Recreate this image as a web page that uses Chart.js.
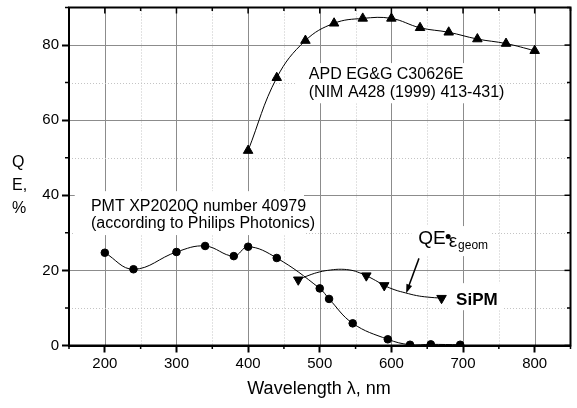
<!DOCTYPE html>
<html>
<head>
<meta charset="utf-8">
<script src="https://cdn.jsdelivr.net/npm/chart.js@4.4.0/dist/chart.umd.min.js"></script>
<style>
    html, body { margin: 0; padding: 0; background: #fff; }
    canvas { display: block; }
</style>
</head>
<body>
<canvas id="qeChart" width="577" height="408"></canvas>
<script>
// wavelength (nm) and QE (%)
const apdWavelength = [400, 440, 480, 520, 560, 600, 640, 680, 720, 760, 800];
const apdQE = [51.9, 71.3, 81.2, 85.8, 87.1, 87.1, 84.6, 83.4, 81.6, 80.4, 78.5];

const pmtWavelength = [200, 240, 300, 340, 380, 400, 440, 500, 513, 546, 595, 626, 655, 696];
const pmtQE = [24.7, 20.3, 24.9, 26.5, 23.8, 26.3, 23.3, 15.2, 12.4, 5.9, 1.65, 0.2, 0.3, 0.2];

const sipmWavelength = [470, 565, 590, 670];
const sipmQE = [17.5, 18.6, 16.0, 12.6];

// SiPM fit curve as drawn in the figure (it bulges above the points)
const sipmCurveWavelength = [470, 485, 500, 515, 530, 545, 555, 565, 578, 590, 605, 620, 635, 650, 670];
const sipmCurveQE = [17.5, 18.7, 19.6, 20.1, 20.3, 20.0, 19.4, 18.6, 17.3, 16.0, 14.8, 14.0, 13.3, 12.9, 12.6];

const xTicks = [200, 300, 400, 500, 600, 700, 800];
const yTicks = [0, 20, 40, 60, 80];

const FONT = "'Liberation Sans', Arial, Helvetica, sans-serif";
const GRID_MAJOR = '#8c8c8c';
const GRID_MINOR = '#c4c4c4';

function zip(xs, ys) {
    return xs.map((x, i) => ({ x: x, y: ys[i] }));
}

const annotations = {
    id: 'annotations',
    beforeDatasetsDraw(chart) {
        const { ctx, chartArea: a, scales: { x, y } } = chart;
        ctx.save();

        // grid: solid at labelled ticks, dotted in between
        ctx.lineWidth = 1;
        x.ticks.forEach(t => {
            if (t.value <= x.min || t.value >= x.max) return;
            const px = Math.round(x.getPixelForValue(t.value)) + 0.5;
            const major = xTicks.includes(t.value);
            ctx.strokeStyle = major ? GRID_MAJOR : GRID_MINOR;
            ctx.setLineDash(major ? [] : [1, 2]);
            ctx.beginPath();
            ctx.moveTo(px, a.top);
            ctx.lineTo(px, a.bottom);
            ctx.stroke();
        });
        y.ticks.forEach(t => {
            if (t.value <= y.min || t.value >= y.max) return;
            const py = Math.round(y.getPixelForValue(t.value)) + 0.5;
            const major = yTicks.includes(t.value);
            ctx.strokeStyle = major ? GRID_MAJOR : GRID_MINOR;
            ctx.setLineDash(major ? [] : [1, 2]);
            ctx.beginPath();
            ctx.moveTo(a.left, py);
            ctx.lineTo(a.right, py);
            ctx.stroke();
        });
        ctx.setLineDash([]);

        // white boxes behind the labels knock out the grid
        const boxes = [
            [468, 744, 75.2, 64.5],
            [158, 478, 41.1, 29.4],
            [628, 740, 31.8, 23.8],
            [682, 756, 16.6, 9.4]
        ];
        ctx.fillStyle = '#fff';
        boxes.forEach(b => {
            const x0 = x.getPixelForValue(b[0]), x1 = x.getPixelForValue(b[1]);
            const y0 = y.getPixelForValue(b[2]), y1 = y.getPixelForValue(b[3]);
            ctx.fillRect(x0, y0, x1 - x0, y1 - y0);
        });
        ctx.restore();
    },
    afterDatasetsDraw(chart) {
        const { ctx, scales: { x, y } } = chart;
        const text = (str, xv, yv, font) => {
            ctx.font = font;
            ctx.fillText(str, x.getPixelForValue(xv), y.getPixelForValue(yv));
        };
        ctx.save();
        ctx.fillStyle = '#000';
        ctx.textAlign = 'left';
        ctx.textBaseline = 'alphabetic';

        text('APD EG&G C30626E', 484.7, 70.9, '16px ' + FONT);
        text('(NIM A428 (1999) 413-431)', 484.7, 66.2, '16px ' + FONT);

        text('PMT XP2020Q number 40979', 180.6, 35.9, '16px ' + FONT);
        text('(according to Philips Photonics)', 180.6, 31.2, '16px ' + FONT);

        // QE•ε_geom
        text('QE', 637.5, 27.0, '19px ' + FONT);
        ctx.beginPath();
        ctx.arc(x.getPixelForValue(679.2), y.getPixelForValue(29.0), 2.5, 0, Math.PI * 2);
        ctx.fill();
        text('\u03b5', 679.9, 26.3, '19px ' + FONT);
        text('geom', 693.1, 25.6, '12px ' + FONT);

        text('SiPM', 690.3, 10.8, 'bold 17px ' + FONT);

        // arrow from the label to the SiPM curve
        const ax0 = x.getPixelForValue(638.5), ay0 = y.getPixelForValue(23.2);
        const ax1 = x.getPixelForValue(620.6), ay1 = y.getPixelForValue(13.9);
        const ang = Math.atan2(ay1 - ay0, ax1 - ax0);
        ctx.strokeStyle = '#000';
        ctx.lineWidth = 1.5;
        ctx.beginPath();
        ctx.moveTo(ax0, ay0);
        ctx.lineTo(ax1 - 5 * Math.cos(ang), ay1 - 5 * Math.sin(ang));
        ctx.stroke();
        ctx.beginPath();
        ctx.moveTo(ax1, ay1);
        ctx.lineTo(ax1 - 9 * Math.cos(ang) + 3 * Math.sin(ang), ay1 - 9 * Math.sin(ang) - 3 * Math.cos(ang));
        ctx.lineTo(ax1 - 9 * Math.cos(ang) - 3 * Math.sin(ang), ay1 - 9 * Math.sin(ang) + 3 * Math.cos(ang));
        ctx.closePath();
        ctx.fill();
        ctx.restore();
    },
    afterDraw(chart) {
        const { ctx, chartArea: a, scales: { x, y } } = chart;
        ctx.save();
        ctx.strokeStyle = '#000';

        // minor ticks outside, all ticks inside on top/right
        ctx.lineWidth = 1.5;
        x.ticks.forEach(t => {
            const px = x.getPixelForValue(t.value);
            const major = xTicks.includes(t.value);
            ctx.beginPath();
            ctx.moveTo(px, a.top);
            ctx.lineTo(px, a.top + (major ? 6 : 3.5));
            if (!major) {
                ctx.moveTo(px, a.bottom);
                ctx.lineTo(px, a.bottom + 3.5);
            }
            ctx.stroke();
        });
        y.ticks.forEach(t => {
            const py = y.getPixelForValue(t.value);
            const major = yTicks.includes(t.value);
            ctx.beginPath();
            ctx.moveTo(a.right, py);
            ctx.lineTo(a.right - (major ? 6 : 3.5), py);
            if (!major) {
                ctx.moveTo(a.left, py);
                ctx.lineTo(a.left - 4, py);
            }
            ctx.stroke();
        });

        // frame
        ctx.lineWidth = 2;
        ctx.strokeRect(a.left, a.top, a.right - a.left, a.bottom - a.top);

        // axis titles
        ctx.fillStyle = '#000';
        ctx.font = '16px ' + FONT;
        ctx.textAlign = 'left';
        ctx.textBaseline = 'alphabetic';
        ctx.fillText('Q', 12, 167);
        ctx.fillText('E,', 12, 190);
        ctx.fillText('%', 12, 213);

        ctx.font = '18px ' + FONT;
        ctx.textAlign = 'center';
        ctx.fillText('Wavelength \u03bb, nm', 319, 394);
        ctx.restore();
    }
};

const ctx = document.getElementById('qeChart').getContext('2d');
new Chart(ctx, {
    type: 'scatter',
    data: {
        datasets: [
            {
                label: 'APD EG&G C30626E',
                data: zip(apdWavelength, apdQE),
                showLine: true,
                tension: 0.4,
                borderColor: '#000',
                borderWidth: 1,
                backgroundColor: '#000',
                pointStyle: 'triangle',
                pointRadius: 5.5,
                pointBorderWidth: 1
            },
            {
                label: 'PMT XP2020Q',
                data: zip(pmtWavelength, pmtQE),
                showLine: true,
                tension: 0.4,
                borderColor: '#000',
                borderWidth: 1,
                backgroundColor: '#000',
                pointStyle: 'circle',
                pointRadius: 3.8,
                pointBorderWidth: 1
            },
            {
                label: 'SiPM curve',
                data: zip(sipmCurveWavelength, sipmCurveQE),
                showLine: true,
                tension: 0.4,
                borderColor: '#000',
                borderWidth: 1,
                pointRadius: 0
            },
            {
                label: 'SiPM',
                data: zip(sipmWavelength, sipmQE),
                showLine: false,
                borderColor: '#000',
                backgroundColor: '#000',
                pointStyle: 'triangle',
                rotation: 180,
                pointRadius: 5.5,
                pointBorderWidth: 1
            }
        ]
    },
    options: {
        responsive: false,
        animation: false,
        events: [],
        layout: {
            padding: { top: 7.5, right: 4, left: 0, bottom: 0 }
        },
        plugins: {
            legend: { display: false },
            tooltip: { enabled: false }
        },
        scales: {
            x: {
                type: 'linear',
                min: 150,
                max: 850,
                afterFit: scale => {
                    scale.height = 62.5;
                    scale.paddingLeft = 0;
                    scale.paddingRight = 0;
                },
                ticks: {
                    stepSize: 50,
                    autoSkip: false,
                    maxRotation: 0,
                    padding: 2,
                    color: '#000',
                    font: { family: FONT, size: 15 },
                    callback: v => xTicks.includes(v) ? String(v) : ''
                },
                grid: {
                    drawOnChartArea: false,
                    tickLength: 7,
                    tickWidth: 2,
                    tickColor: c => xTicks.includes(c.tick.value) ? '#000' : 'rgba(0,0,0,0)'
                },
                border: { color: '#000', width: 2 }
            },
            y: {
                min: 0,
                max: 90,
                afterFit: scale => {
                    scale.width = 69;
                    scale.paddingTop = 0;
                    scale.paddingBottom = 0;
                },
                ticks: {
                    stepSize: 10,
                    autoSkip: false,
                    padding: 3,
                    color: '#000',
                    font: { family: FONT, size: 15 },
                    callback: v => yTicks.includes(v) ? String(v) : ''
                },
                grid: {
                    drawOnChartArea: false,
                    tickLength: 7,
                    tickWidth: 2,
                    tickColor: c => yTicks.includes(c.tick.value) ? '#000' : 'rgba(0,0,0,0)'
                },
                border: { color: '#000', width: 2 }
            }
        }
    },
    plugins: [annotations]
});
</script>
</body>
</html>
